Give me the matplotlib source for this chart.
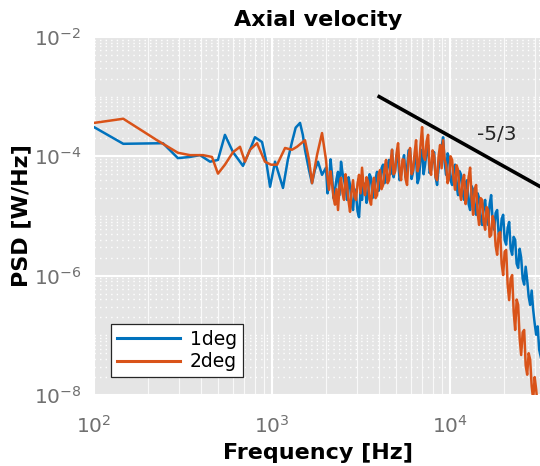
import numpy as np
import matplotlib as mpl
mpl.use('Agg')
from matplotlib import pyplot as plt
from matplotlib.ticker import LogLocator, NullFormatter

# low frequency part, read separately for each case
freq_lf_1deg = [100, 146, 244, 296, 346, 394, 449, 497, 544, 604,
                687, 752, 802, 879, 925, 975, 1040, 1153, 1227, 1295,
                1358, 1437, 1490, 1532, 1614, 1678, 1740, 1813, 1910]
logpsd_lf_1deg = [-3.51, -3.79, -3.78, -4.03, -4.01, -3.98, -4.09, -4.06, -3.64, -3.93,
                  -4.16, -3.89, -3.68, -3.76, -4.06, -4.51, -4.09, -4.53, -4.06, -3.76,
                  -3.52, -3.44, -3.64, -3.89, -4.23, -4.45, -4.23, -4.09, -4.31]

freq_lf_2deg = [100, 146, 226, 296, 346, 410, 460, 497, 544, 604,
                661, 705, 752, 824, 913, 986, 1068, 1184, 1295, 1381,
                1532, 1614, 1678, 1790, 1910]
logpsd_lf_2deg = [-3.44, -3.37, -3.73, -3.94, -3.98, -3.98, -4.01, -4.29, -4.14, -3.93,
                  -3.84, -4.09, -3.89, -3.78, -4.09, -4.14, -4.14, -3.86, -3.89, -3.84,
                  -3.73, -4.06, -4.45, -3.98, -3.61]

# high frequency part, two interleaved sets of frequencies (shared by both cases)
freq_hf_a = [2011, 2091, 2174, 2260, 2349, 2442, 2539, 2640, 2744, 2853,
             2966, 3083, 3205, 3332, 3464, 3601, 3744, 3892, 4046, 4207,
             4373, 4546, 4726, 4913, 5108, 5310, 5520, 5739, 5966, 6202,
             6448, 6703, 6969, 7245, 7532, 7830, 8140, 8462, 8797, 9146,
             9508, 9885, 10276, 10683, 11106, 11546, 12003, 12479, 12973, 13487,
             14021, 14576, 15154, 15754, 16378, 17026, 17701, 18402, 19130, 19888,
             20676, 21495, 22346, 23231, 24151, 25108, 26102, 27136, 28211, 29328,
             30490, 31697, 32952]
freq_hf_b = [2050, 2132, 2217, 2304, 2395, 2490, 2589, 2692, 2798, 2909,
             3024, 3143, 3268, 3397, 3532, 3672, 3817, 3968, 4125, 4289,
             4459, 4635, 4819, 5009, 5208, 5414, 5628, 5851, 6083, 6324,
             6574, 6834, 7106, 7387, 7680, 7983, 8299, 8628, 8969, 9325,
             9694, 10079, 10477, 10892, 11324, 11772, 12238, 12724, 13227, 13751,
             14296, 14862, 15451, 16063, 16699, 17360, 18048, 18763, 19505, 20278,
             21081, 21916, 22784, 23686, 24624, 25600, 26614, 27668, 28764, 29903,
             31088, 32318]

logpsd_hf_1deg_a = [-4.19, -4.48, -4.31, -4.56, -4.26, -4.09, -4.40, -4.73, -4.48, -4.90,
                    -4.65, -5.02, -4.73, -4.48, -4.65, -4.36, -4.60, -4.26, -4.48, -4.14,
                    -4.36, -4.06, -3.89, -4.23, -4.03, -4.31, -3.98, -4.19, -3.89, -4.26,
                    -4.06, -4.36, -3.89, -4.14, -3.81, -4.23, -3.93, -4.48, -4.06, -3.68,
                    -4.31, -4.03, -4.48, -4.14, -4.65, -4.31, -4.73, -4.40, -4.90, -4.56,
                    -4.98, -4.70, -5.15, -4.73, -5.15, -4.65, -5.23, -4.90, -5.37, -4.98,
                    -5.48, -5.10, -5.65, -5.40, -5.87, -5.70, -6.15, -6.07, -6.49, -6.57,
                    -6.99, -7.24, -7.49]
logpsd_hf_1deg_b = [-4.62, -4.05, -4.70, -4.38, -4.65, -4.28, -4.52, -4.35, -4.80, -4.55,
                    -4.92, -4.60, -4.45, -4.78, -4.30, -4.70, -4.38, -4.58, -4.20, -4.45,
                    -4.15, -4.30, -4.35, -3.98, -4.40, -4.10, -4.35, -3.90, -4.38, -4.00,
                    -4.45, -4.02, -4.30, -3.92, -4.28, -4.05, -4.35, -4.20, -3.85, -4.10,
                    -3.95, -4.40, -4.20, -4.50, -4.25, -4.62, -4.45, -4.80, -4.50, -4.85,
                    -4.62, -5.05, -4.85, -5.05, -4.80, -5.10, -4.95, -5.30, -5.05, -5.40,
                    -5.20, -5.55, -5.35, -5.80, -5.55, -6.05, -5.85, -6.35, -6.25, -6.80,
                    -6.85, -7.35]

logpsd_hf_2deg_a = [-4.06, -4.56, -4.45, -4.81, -4.90, -4.36, -4.73, -4.48, -4.93, -4.40,
                    -4.73, -4.31, -4.19, -4.65, -4.43, -4.81, -4.36, -4.65, -4.23, -4.48,
                    -4.06, -4.40, -3.89, -4.26, -3.78, -4.40, -4.06, -4.48, -3.86, -4.23,
                    -3.73, -4.14, -3.51, -4.06, -3.64, -4.31, -3.98, -4.40, -3.81, -3.73,
                    -4.14, -4.36, -4.06, -4.56, -4.23, -4.73, -4.31, -4.65, -4.19, -4.98,
                    -4.48, -5.15, -4.73, -5.23, -4.90, -5.32, -5.10, -5.65, -5.27, -5.99,
                    -5.57, -6.41, -5.99, -6.91, -6.49, -7.33, -6.91, -7.66, -7.41, -8.08,
                    -7.91, -8.42, -8.58]
logpsd_hf_2deg_b = [-4.35, -4.25, -4.70, -4.55, -4.50, -4.62, -4.30, -4.75, -4.60, -4.68,
                    -4.45, -4.62, -4.50, -4.35, -4.72, -4.48, -4.70, -4.30, -4.55, -4.20,
                    -4.45, -4.10, -4.30, -3.95, -4.22, -4.05, -4.38, -4.00, -4.30, -3.95,
                    -4.25, -3.80, -4.00, -3.75, -4.20, -3.90, -4.35, -4.00, -4.20, -4.05,
                    -4.45, -4.00, -4.40, -4.15, -4.60, -4.40, -4.80, -4.35, -4.70, -4.55,
                    -4.95, -4.70, -5.10, -4.85, -5.35, -5.00, -5.50, -5.30, -5.80, -5.60,
                    -6.15, -6.05, -6.60, -6.40, -7.05, -6.95, -7.50, -7.30, -7.85, -7.70,
                    -8.20, -8.50]

labels = ['1deg', '2deg']
colors = ['#0072BD', '#D95319']

# -5/3 reference slope
slope_freq = [4000, 33000]
slope_psd = [1e-3, 1e-3 * (33000 / 4000) ** (-5 / 3)]


def build(freq_lf, log_lf, log_a, log_b):
    f = np.array(freq_lf + freq_hf_a + freq_hf_b, dtype=float)
    p = 10 ** np.array(log_lf + log_a + log_b)
    order = np.argsort(f)
    return f[order], p[order]


f1, p1 = build(freq_lf_1deg, logpsd_lf_1deg, logpsd_hf_1deg_a, logpsd_hf_1deg_b)
f2, p2 = build(freq_lf_2deg, logpsd_lf_2deg, logpsd_hf_2deg_a, logpsd_hf_2deg_b)

tick_gray = '#707070'

fig = plt.figure(figsize=(5.4, 4.66), dpi=100)
ax = fig.add_axes([94 / 540, 71 / 466, 448 / 540, 358 / 466])
ax.set_facecolor('#e5e5e5')

ax.plot(f1, p1, color=colors[0], lw=1.8, label=labels[0])
ax.plot(f2, p2, color=colors[1], lw=1.8, label=labels[1])
ax.plot(slope_freq, slope_psd, color='black', lw=2.6)
ax.text(18400, 2.3e-4, '-5/3', fontsize=14.5, color='#262626', ha='center', va='center')

ax.set_xscale('log')
ax.set_yscale('log')
ax.set_xlim(100, 10 ** (2 + 448 / 178))
ax.set_ylim(1e-8, 1e-2)

ax.set_xticks([1e2, 1e3, 1e4])
ax.set_yticks([1e-8, 1e-6, 1e-4, 1e-2])
ax.xaxis.set_minor_locator(LogLocator(base=10, subs=np.arange(2, 10), numticks=20))
ax.yaxis.set_minor_locator(LogLocator(base=10, subs=np.arange(1, 10), numticks=20))
ax.xaxis.set_minor_formatter(NullFormatter())
ax.yaxis.set_minor_formatter(NullFormatter())

ax.set_axisbelow(True)
ax.grid(True, which='major', color='white', lw=1.5)
ax.xaxis.grid(True, which='minor', color='white', lw=0.8, ls='-', alpha=0.8)
ax.yaxis.grid(True, which='minor', color='white', lw=1.0, ls=(0, (1, 3)))

for s in ax.spines.values():
    s.set_visible(False)
ax.tick_params(which='both', length=0, labelsize=14.5, labelcolor=tick_gray)
ax.tick_params(axis='y', pad=9)
ax.tick_params(axis='x', pad=14)

ax.set_title('Axial velocity', fontsize=16, fontweight='bold', pad=8)
ax.set_xlabel('Frequency [Hz]', fontsize=16, fontweight='bold')
ax.set_ylabel('PSD [W/Hz]', fontsize=16, fontweight='bold')
ax.xaxis.set_label_coords(0.5, -0.135)
ax.yaxis.set_label_coords(-0.14, 0.5)

leg = ax.legend(loc='lower left', bbox_to_anchor=(0.038, 0.05), borderaxespad=0,
                fontsize=13.5, handlelength=3.4, fancybox=False, framealpha=1,
                edgecolor='#262626', facecolor='white', borderpad=0.3,
                labelspacing=0.2, handletextpad=0.5)
leg.get_frame().set_linewidth(0.9)
for line in leg.get_lines():
    line.set_linewidth(2.2)

fig.savefig('out.png', dpi=100)
